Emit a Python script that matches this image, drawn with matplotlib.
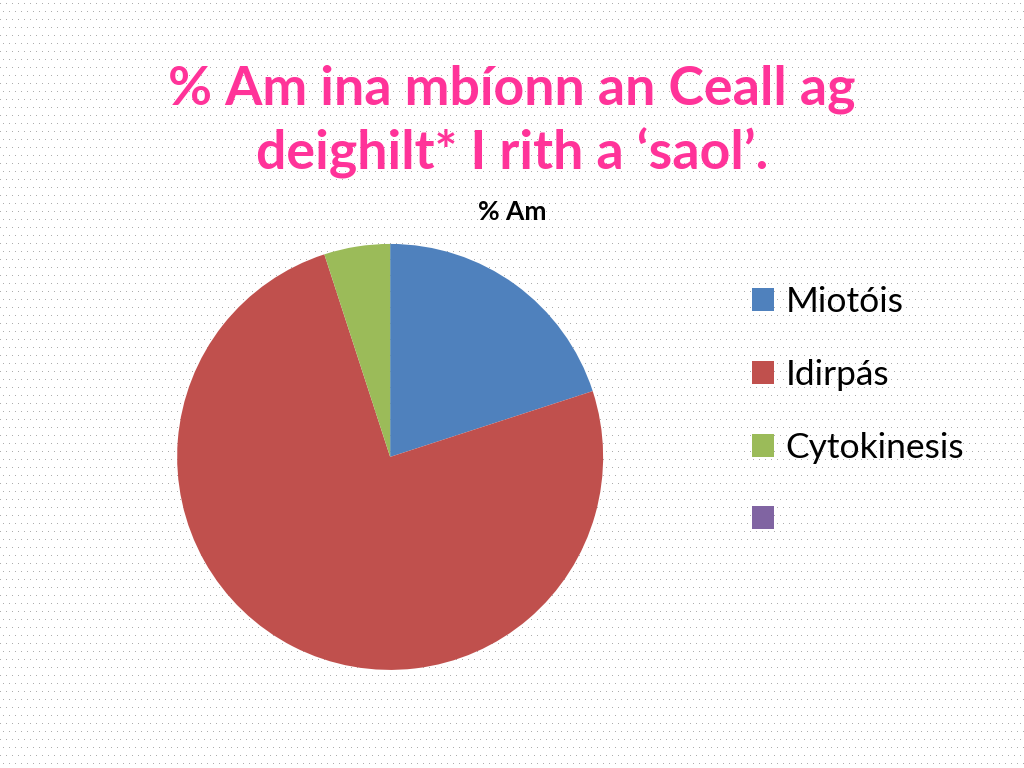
import numpy as np
import matplotlib
matplotlib.use("Agg")
from matplotlib import pyplot as plt
from matplotlib.patches import Patch

labels = ["Miotóis", "Idirpás", "Cytokinesis", ""]
values = [20, 75, 5, 0]
colors = ["#4F81BD", "#C0504D", "#9BBB59", "#8064A2"]

title_lines = ["% Am ina mbíonn an Ceall ag", "deighilt* I rith a ‘saol’."]
chart_title = "% Am"

plt.rcParams["font.family"] = ["Lato", "DejaVu Sans"]

fig = plt.figure(figsize=(10.24, 7.68), dpi=100)

# dotted slide background
h, w = 768, 1024
bg = np.ones((h, w, 3))
for r, y in enumerate(range(3, h, 8)):
    off = 0 if r % 2 == 0 else 3
    bg[y, off::6] = 0.68
fig.figimage(bg, 0, 0, zorder=-10)

fig.text(0.5, 1 - 89 / 768, title_lines[0], ha="center", va="center",
         fontsize=38.6, fontweight="bold", color="#FF3399")
fig.text(0.5, 1 - 153 / 768, title_lines[1], ha="center", va="center",
         fontsize=38.6, fontweight="bold", color="#FF3399")
fig.text(0.5, 1 - 212 / 768, chart_title, ha="center", va="center",
         fontsize=19, fontweight="bold", color="black")

ax = fig.add_axes([0.381 - 0.208, 0.405 - 0.2773, 0.416, 0.5547])
ax.patch.set_alpha(0)
ax.pie(values, colors=colors, startangle=90, counterclock=False, radius=1,
       wedgeprops={"linewidth": 0})
ax.set_xlim(-1, 1)
ax.set_ylim(-1, 1)
ax.set_aspect("equal")

handles = [Patch(facecolor=c, edgecolor="none") for c in colors]
fig.legend(handles, labels, loc="upper left", bbox_to_anchor=(0.721, 1 - 272 / 768),
           frameon=False, fontsize=25.5, handlelength=0.62, handleheight=0.62,
           handletextpad=0.32, labelspacing=1.15, borderaxespad=0)

fig.savefig("out.png", dpi=100)
